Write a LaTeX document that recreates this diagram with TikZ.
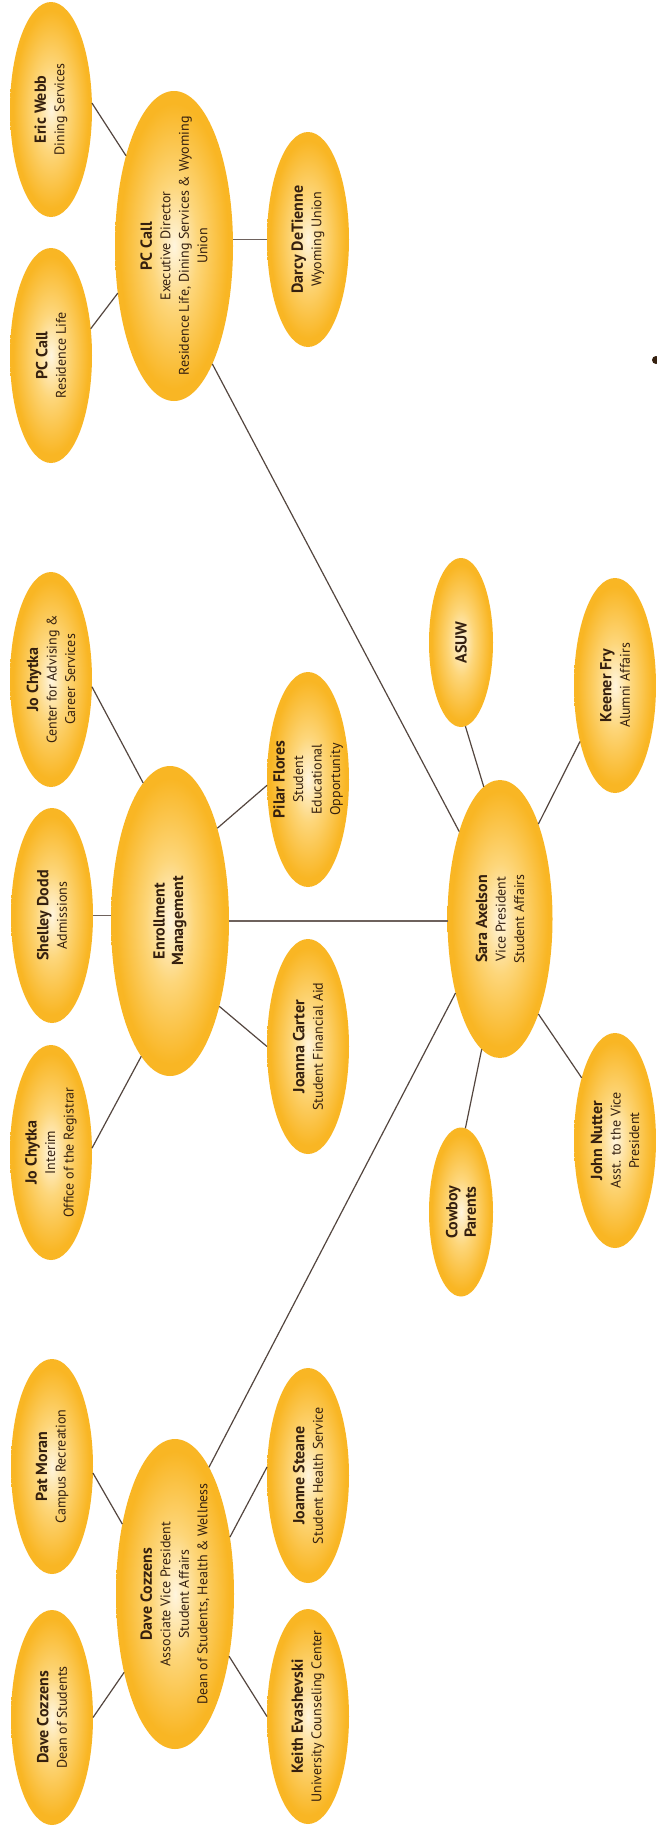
\documentclass[tikz,border=0pt]{standalone}
\usepackage{fontspec}
\setmainfont{PT Sans}
\usetikzlibrary{shapes.geometric}
\definecolor{ovin}{HTML}{FFF5DE}
\definecolor{ovmid}{HTML}{FDD67A}
\definecolor{ovout}{HTML}{F9B624}
\definecolor{txt}{HTML}{35200F}
\definecolor{linec}{HTML}{54463F}
\definecolor{hlinec}{HTML}{6E625D}
\pgfdeclareradialshading{ovalshade}{\pgfpoint{0bp}{0bp}}{color(0bp)=(ovin); color(10bp)=(ovmid); color(23bp)=(ovout); color(50bp)=(ovout)}
\newcommand\pname[1]{{\fontsize{16}{18.5}\selectfont\bfseries #1}}
\begin{document}
\begin{tikzpicture}[x=1pt,y=-1pt,
  oval/.style={ellipse, shading=ovalshade, draw=none, outer sep=0pt, inner sep=0pt},
  bigoval/.style={oval, minimum width=82pt, minimum height=215pt},
  smalloval/.style={oval, minimum width=64pt, minimum height=169pt},
  mainoval/.style={oval, minimum width=118pt, minimum height=310pt},
  saraoval/.style={oval, minimum width=105pt, minimum height=278pt},
  lbl/.style={rotate=90, align=center, text=txt, inner sep=0pt, font=\fontsize{14}{18.5}\selectfont},
  link/.style={draw=linec, line width=1.2pt},
  hlink/.style={draw=hlinec, line width=1.8pt}]
\useasboundingbox (0,0) rectangle (656,1831);
\fill[white] (0,0) rectangle (656,1831);
% ellipses
\node[bigoval] (eric) at (51,109.5) {};
\node[bigoval] (pcres) at (51,355.5) {};
\node[mainoval] (pcmain) at (174,246) {};
\node[bigoval] (darcy) at (308,239.5) {};
\node[bigoval] (jocac) at (51,679.5) {};
\node[bigoval] (shelley) at (52,915.5) {};
\node[bigoval] (jointerim) at (51,1152.5) {};
\node[mainoval] (enroll) at (170,921) {};
\node[bigoval] (pilar) at (308,779.5) {};
\node[bigoval] (joanna) at (308,1046.5) {};
\node[smalloval] (asuw) at (461,642.5) {};
\node[bigoval] (keener) at (615,685.5) {};
\node[saraoval] (sara) at (500,919) {};
\node[smalloval] (cowboy) at (461,1212) {};
\node[bigoval] (john) at (615,1140.5) {};
\node[bigoval] (pat) at (52,1466.5) {};
\node[bigoval] (davedean) at (52,1717.5) {};
\node[mainoval] (dave) at (175,1594) {};
\node[bigoval] (joanne) at (308,1475.5) {};
\node[bigoval] (keith) at (308,1716.5) {};
% texts
\node[lbl] (ericT) at (eric) {\pname{Eric Webb}\\Dining Services};
\node[lbl] (pcresT) at (pcres) {\pname{PC Call}\\Residence Life};
\node[lbl] (pcmainT) at (pcmain) {\pname{PC Call}\\Executive Director\\Residence Life, Dining Services \& Wyoming\\Union};
\node[lbl] (darcyT) at (darcy) {\pname{Darcy DeTienne}\\Wyoming Union};
\node[lbl] (jocacT) at (jocac) {\pname{Jo Chytka}\\Center for Advising \&\\Career Services};
\node[lbl] (shelleyT) at (shelley) {\pname{Shelley Dodd}\\Admissions};
\node[lbl] (jointerimT) at (jointerim) {\pname{Jo Chytka}\\Interim\\Office of the Registrar};
\node[lbl] (enrollT) at (enroll) {\pname{Enrollment}\\\pname{Management}};
\node[lbl] (pilarT) at (pilar) {\pname{Pilar Flores}\\Student\\Educational\\Opportunity};
\node[lbl] (joannaT) at (joanna) {\pname{Joanna Carter}\\Student Financial Aid};
\node[lbl] (asuwT) at (asuw) {\pname{ASUW}};
\node[lbl] (keenerT) at (keener) {\pname{Keener Fry}\\Alumni Affairs};
\node[lbl] (saraT) at (sara) {\pname{Sara Axelson}\\Vice President\\Student Affairs};
\node[lbl] (cowboyT) at (cowboy) {\pname{Cowboy}\\\pname{Parents}};
\node[lbl] (johnT) at (john) {\pname{John Nutter}\\Asst. to the Vice\\President};
\node[lbl] (patT) at (pat) {\pname{Pat Moran}\\Campus Recreation};
\node[lbl] (davedeanT) at (davedean) {\pname{Dave Cozzens}\\Dean of Students};
\node[lbl] (daveT) at (dave) {\pname{Dave Cozzens}\\Associate Vice President\\Student Affairs\\Dean of Students, Health \& Wellness};
\node[lbl] (joanneT) at (joanne) {\pname{Joanne Steane}\\Student Health Service};
\node[lbl] (keithT) at (keith) {\pname{Keith Evashevski}\\University Counseling Center};
% connectors
\draw[link] (eric.9) -- (pcmain.118);
\draw[link] (pcres.34) -- (pcmain.220);
\draw[hlink] (darcy.west) -- (pcmain.east |- darcy.west);
\draw[link] (pcmain.-72) -- (sara.115);
\draw[link] (jocac.-10) -- (enroll.101);
\draw[link] (pilar.188) -- (enroll.63);
\draw[link] (joanna.180) -- (enroll.-60);
\draw[link] (jointerim.6) -- (enroll.258);
\draw[hlink] (shelley.east) -- (enroll.west |- shelley.east);
\draw[hlink] (enroll.east) -- (sara.west |- enroll.east);
\draw[link] (asuw.-87) -- (sara.97);
\draw[link] (keener.238) -- (sara.68);
\draw[link] (john.118) -- (sara.-68);
\draw[link] (cowboy.87) -- (sara.262);
\draw[link] (sara.239) -- (dave.75);
\draw[link] (pat.-9) -- (dave.127);
\draw[link] (joanne.168) -- (dave.46);
\draw[link] (davedean.0) -- (dave.237);
\draw[link] (keith.180) -- (dave.-49);
\fill[txt] (656,360) circle (4);
\end{tikzpicture}
\end{document}
